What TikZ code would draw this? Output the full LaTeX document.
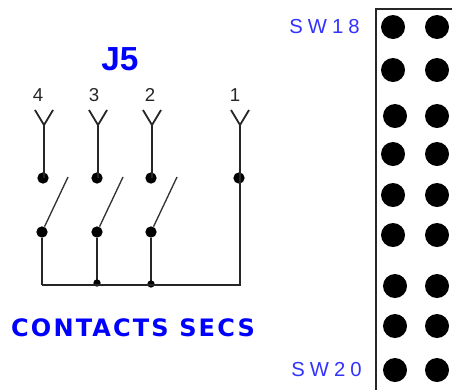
\documentclass[tikz,border=0pt]{standalone}
\usepackage{fontspec}
\setmainfont{Liberation Sans}
\newfontfamily\headfont[LetterSpace=9]{DejaVu Sans}
\newfontfamily\swfont[LetterSpace=25]{Liberation Sans}
\usetikzlibrary{positioning,calc}
\definecolor{hdblue}{RGB}{0,0,255}
\definecolor{swblue}{RGB}{50,50,255}
\tikzset{pxgrid/.style={x=0.75pt, y=-0.75pt}}
\tikzset{wire/.style={draw, line width=1.35pt, black!85}}
\tikzset{blade/.style={draw, line width=1pt, black!80}}
\tikzset{junc/.style={circle, fill=black, inner sep=0pt, minimum size=8.5pt}}
\tikzset{smalljunc/.style={circle, fill=black, inner sep=0pt, minimum size=5.5pt}}
\tikzset{hole/.style={circle, fill=black, inner sep=0pt, minimum size=18pt}}
\tikzset{pinlabel/.style={font=\fontsize{14}{14}\selectfont, black!85, inner sep=0pt}}
\tikzset{swlabel/.style={font=\fontsize{15.2}{15.2}\swfont, text=swblue, inner sep=0pt}}
\begin{document}
\begin{tikzpicture}[pxgrid]
	\useasboundingbox (0,0) rectangle (452,390);
	\node[font=\fontsize{25}{25}\selectfont\bfseries, text=hdblue, inner sep=0pt] (title) at (120,59) {J5};
	\node[font=\fontsize{18}{18}\headfont\bfseries, text=hdblue, inner sep=0pt] (caption) at (133,328) {CONTACTS SECS};
	% terminals
	\foreach \n/\x/\lx in {4/44/38, 3/98/94, 2/152/150, 1/240/235} {
		\node[pinlabel] (lab\n) at (\lx,95) {\n};
		\coordinate (fork\n) at (\x,125);
		\coordinate (forkl\n) at (\x-9,110);
		\coordinate (forkr\n) at (\x+9,110);
		\node[junc] (up\n) at (\x-1,178) {};
		\draw[wire] (forkl\n) -- (fork\n) -- (forkr\n);
		\draw[wire] (fork\n) -- (fork\n |- up\n);
	}
	% switches
	\foreach \n/\x in {4/42, 3/97, 2/151} {
		\node[junc] (low\n) at (\x,232) {};
		\coordinate (tip\n) at (\x+26,177);
		\draw[blade] (low\n) -- (tip\n);
		\coordinate (bus\n) at (\x,285);
		\draw[wire] (low\n) -- (bus\n);
	}
	\node[smalljunc] (tee3) at (97,283) {};
	\node[smalljunc] (tee2) at (151,284) {};
	\coordinate (bus1) at (240,285);
	\draw[wire] (bus4) -- (bus1) -- (fork1 |- up1);
	% connector block
	\coordinate (boxtl) at (376,9);
	\coordinate (boxtr) at (452,9);
	\coordinate (boxbl) at (376,390);
	\draw[wire] (boxtr) -- (boxtl) -- (boxbl);
	\foreach \r/\y/\xa in {1/27/393, 2/70/393, 3/116/395, 4/154/393, 5/195/393, 6/235/393, 7/286/395, 8/326/395, 9/370/395} {
		\node[hole] (a\r) at (\xa,\y) {};
		\node[hole] (b\r) at (437,\y) {};
	}
	\node[swlabel, anchor=west] (sw18) at (289,27) {SW18};
	\node[swlabel, anchor=west] (sw20) at (291,370) {SW20};
\end{tikzpicture}
\end{document}
